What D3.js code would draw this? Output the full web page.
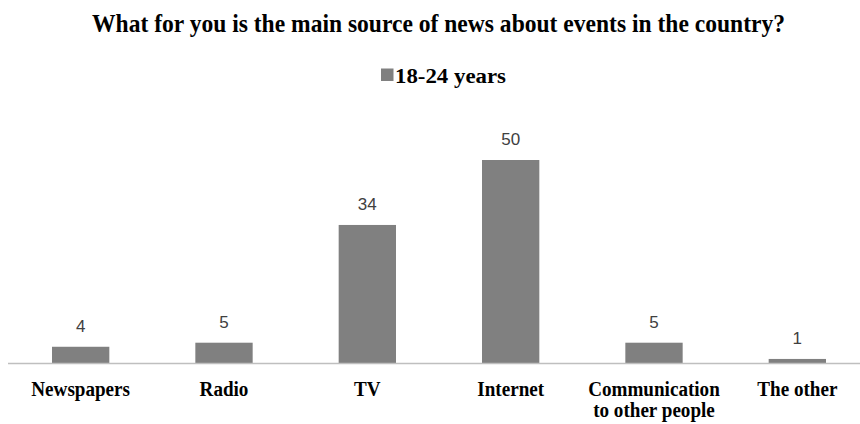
<!DOCTYPE html>
<html>
<head>
<meta charset="utf-8">
<script src="https://cdn.jsdelivr.net/npm/d3@7/dist/d3.min.js"></script>
<style>
  html, body { margin: 0; padding: 0; background: #ffffff; }
  svg { display: block; }
</style>
</head>
<body>
<div id="chart"></div>
<script>
// Main news source, respondents aged 18-24 (%)
const categories = ["Newspapers", "Radio", "TV", "Internet", "Communication\nto other people", "The other"];
const values = [4, 5, 34, 50, 5, 1];
const seriesName = "18-24 years";
const title = "What for you is the main source of news about events in the country?";

const W = 860, H = 424;
const serif = "'Liberation Serif', 'Times New Roman', 'DejaVu Serif', serif";
const sans = "'Liberation Sans', Arial, sans-serif";
const barColor = "#808080";
const condense = 0.955; // narrow the bold serif labels slightly

const svg = d3.select("#chart").append("svg")
  .attr("width", W).attr("height", H);

const x = d3.scaleBand()
  .domain(categories)
  .range([9, 869])
  .paddingInner(0.6)
  .paddingOuter(0.3);

const y = d3.scaleLinear()
  .domain([0, 50])
  .range([363, 160]);

// Title
svg.append("text")
  .attr("x", 92).attr("y", 32)
  .attr("textLength", 693).attr("lengthAdjust", "spacingAndGlyphs")
  .style("font-family", serif).style("font-weight", "bold")
  .style("font-size", "25px").attr("fill", "#000")
  .text(title);

// Legend
const legend = svg.append("g");
legend.append("rect")
  .attr("x", 381).attr("y", 68.5).attr("width", 12.5).attr("height", 12.5)
  .attr("fill", barColor);
legend.append("text")
  .attr("x", 395).attr("y", 82.5)
  .attr("textLength", 111).attr("lengthAdjust", "spacingAndGlyphs")
  .style("font-family", serif).style("font-weight", "bold")
  .style("font-size", "20px").attr("fill", "#000")
  .text(seriesName);

// Bars
svg.append("g").selectAll("rect")
  .data(categories)
  .join("rect")
  .attr("x", d => x(d))
  .attr("width", x.bandwidth())
  .attr("y", (d, i) => y(values[i]))
  .attr("height", (d, i) => y(0) - y(values[i]))
  .attr("fill", barColor);

// Value labels
svg.append("g").selectAll("text")
  .data(categories)
  .join("text")
  .attr("x", d => x(d) + x.bandwidth() / 2)
  .attr("y", (d, i) => y(values[i]) - 15)
  .attr("text-anchor", "middle")
  .style("font-family", sans).style("font-size", "17px")
  .attr("fill", "#404040")
  .text((d, i) => values[i]);

// Category axis
const xAxis = svg.append("g")
  .attr("transform", `translate(0,${y(0)})`)
  .call(d3.axisBottom(x).tickSize(0).tickFormat(""));
xAxis.select(".domain")
  .attr("d", `M8,0.5H${W}`)
  .attr("stroke", "#bfbfbf").attr("stroke-width", 1.5);

xAxis.selectAll(".tick text").remove();
xAxis.selectAll(".tick").each(function(d) {
  const lines = d.split("\n");
  const g = d3.select(this);
  lines.forEach((ln, i) => {
    const t = g.append("text")
      .attr("text-anchor", "middle")
      .attr("x", 0)
      .attr("y", 33 + i * 21)
      .style("font-family", serif).style("font-weight", "bold")
      .style("font-size", "20px").attr("fill", "#000")
      .text(ln);
    const w = t.node().getComputedTextLength();
    t.attr("textLength", w * condense).attr("lengthAdjust", "spacingAndGlyphs");
  });
});
</script>
</body>
</html>
